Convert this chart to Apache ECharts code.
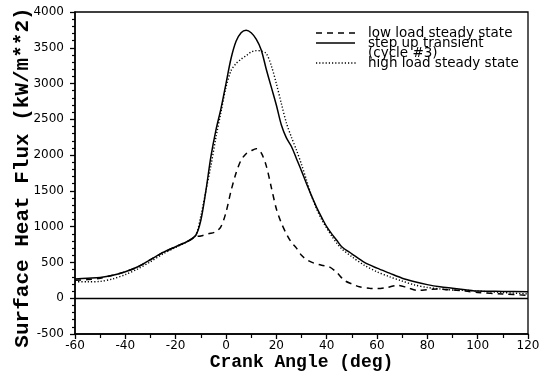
<!DOCTYPE html>
<html><head><meta charset="utf-8">
<script src="https://cdn.jsdelivr.net/npm/echarts@6/dist/echarts.min.js"></script>
<style>html,body{margin:0;padding:0;background:#fff}#c{width:539px;height:380px}</style>
</head><body><div id="c"></div>
<script>
// Step up transient (cycle #3) - solid
const transAngle = [-60,-55,-50,-45,-40,-35,-30,-25,-20,-15,-12,-10,-8,-6,-4,-2,0,2,4,6,8,10,12,14,16,18,20,22,24,26,28,30,32,34,36,38,40,42,44,46,50,55,60,65,70,75,80,85,90,95,100,110,120];
const transFlux  = [270,280,290,320,370,440,540,640,720,800,880,1090,1500,1980,2350,2650,3000,3350,3590,3710,3745,3710,3620,3470,3200,2950,2700,2420,2240,2120,1950,1780,1600,1430,1270,1130,1000,900,810,720,620,500,420,350,280,230,190,160,140,120,100,95,90];
// High load steady state - dotted
const highAngle = [-60,-55,-50,-45,-40,-35,-30,-25,-20,-15,-12,-10,-8,-6,-4,-2,0,2,4,6,8,10,12,14,16,18,20,22,24,26,28,30,32,34,36,38,40,42,44,46,50,55,60,65,70,75,80,85,90,95,100,110,120];
const highFlux  = [230,230,235,270,330,410,510,620,710,800,880,1150,1500,1850,2250,2600,2950,3180,3280,3340,3390,3440,3460,3455,3420,3250,3000,2720,2450,2250,2070,1870,1650,1430,1250,1100,980,870,770,690,580,460,370,300,240,185,150,130,115,110,100,80,60];
// Low load steady state - dashed
const lowAngle = [-60,-55,-50,-45,-40,-35,-30,-25,-20,-15,-12,-10,-7,-4,-2,0,2,4,6,8,10,12,14,16,18,20,22,24,26,28,30,32,35,38,41,44,47,50,53,57,60,64,68,72,76,80,84,88,95,100,110,120];
const lowFlux  = [250,260,280,320,370,440,540,640,720,800,860,870,900,930,1000,1200,1500,1750,1930,2020,2060,2090,2030,1850,1550,1250,1050,900,780,700,600,540,490,460,440,360,250,200,160,140,135,150,180,150,110,120,130,120,100,80,60,40];

const xTicks = {min:-60, max:120, interval:20};
const yTicks = {min:-500, max:4000, interval:500};
const legendLabels = ['low load steady state', 'step up transient', '(cycle #3)', 'high load steady state'];

const zip = (a,b) => a.map((x,i)=>[x,b[i]]);
const tickFont = {fontFamily:'DejaVu Sans', fontSize:12, color:'#000'};
const titleFont = {fontFamily:'Liberation Mono', fontWeight:'bold', color:'#000'};
const legFont = '13.5px "DejaVu Sans"';

const chart = echarts.init(document.getElementById('c'), null, {renderer:'canvas'});
chart.setOption({
  animation:false,
  backgroundColor:'#fff',
  grid:{left:75, right:11, top:12, bottom:46, show:true, borderColor:'#000', borderWidth:1.3, containLabel:false, outerBoundsMode:'none'},
  xAxis:{type:'value', min:xTicks.min, max:xTicks.max, interval:xTicks.interval,
    name:'Crank Angle (deg)', nameLocation:'middle', nameGap:19, nameMoveOverlap:false,
    nameTextStyle:Object.assign({fontSize:18}, titleFont),
    axisLine:{show:true, onZero:false, lineStyle:{color:'#000', width:1.5}},
    axisTick:{show:true, inside:false, length:5, lineStyle:{color:'#000', width:1.3}},
    minorTick:{show:true, splitNumber:2, length:4, lineStyle:{color:'#000', width:1.2}},
    splitLine:{show:false},
    axisLabel:Object.assign({margin:6, formatter:v=>String(v)}, tickFont)},
  yAxis:{type:'value', min:yTicks.min, max:yTicks.max, interval:yTicks.interval,
    name:'Surface Heat Flux (kW/m**2)', nameLocation:'middle', nameGap:42, nameMoveOverlap:false,
    nameTextStyle:Object.assign({fontSize:21, padding:[0,9,0,0]}, titleFont),
    axisLine:{show:true, onZero:false, lineStyle:{color:'#000', width:1.5}},
    axisTick:{show:true, inside:false, length:5, lineStyle:{color:'#000', width:1.3}},
    minorTick:{show:true, splitNumber:5, length:3, lineStyle:{color:'#000', width:1.2}},
    splitLine:{show:false},
    axisLabel:Object.assign({margin:11, formatter:v=>String(v)}, tickFont)},
  series:[
    {type:'line', name:'low load steady state', data:zip(lowAngle,lowFlux), showSymbol:false, smooth:0.3,
      lineStyle:{color:'#000', width:1.5, type:[6,5]}},
    {type:'line', name:'step up transient (cycle #3)', data:zip(transAngle,transFlux), showSymbol:false, smooth:0.3,
      lineStyle:{color:'#000', width:1.5},
      markLine:{silent:true, symbol:'none', label:{show:false}, lineStyle:{color:'#000', width:1.3, type:'solid'}, data:[{yAxis:0}]}},
    {type:'line', name:'high load steady state', data:zip(highAngle,highFlux), showSymbol:false, smooth:0.3,
      lineStyle:{color:'#000', width:1.4, type:[1.2,2]}}
  ],
  graphic:[
    {type:'line', shape:{x1:316,y1:33,x2:355,y2:33}, style:{stroke:'#000', lineWidth:1.5, lineDash:[6,5]}},
    {type:'line', shape:{x1:316,y1:43,x2:355,y2:43}, style:{stroke:'#000', lineWidth:1.5}},
    {type:'line', shape:{x1:316,y1:63,x2:356,y2:63}, style:{stroke:'#000', lineWidth:1.3, lineDash:[1.2,2]}},
    {type:'text', x:368, y:33, style:{text:legendLabels[0], font:legFont, fill:'#000', textVerticalAlign:'middle'}},
    {type:'text', x:368, y:43, style:{text:legendLabels[1], font:legFont, fill:'#000', textVerticalAlign:'middle'}},
    {type:'text', x:368, y:53, style:{text:legendLabels[2], font:legFont, fill:'#000', textVerticalAlign:'middle'}},
    {type:'text', x:368, y:63, style:{text:legendLabels[3], font:legFont, fill:'#000', textVerticalAlign:'middle'}}
  ]
});
</script></body></html>
